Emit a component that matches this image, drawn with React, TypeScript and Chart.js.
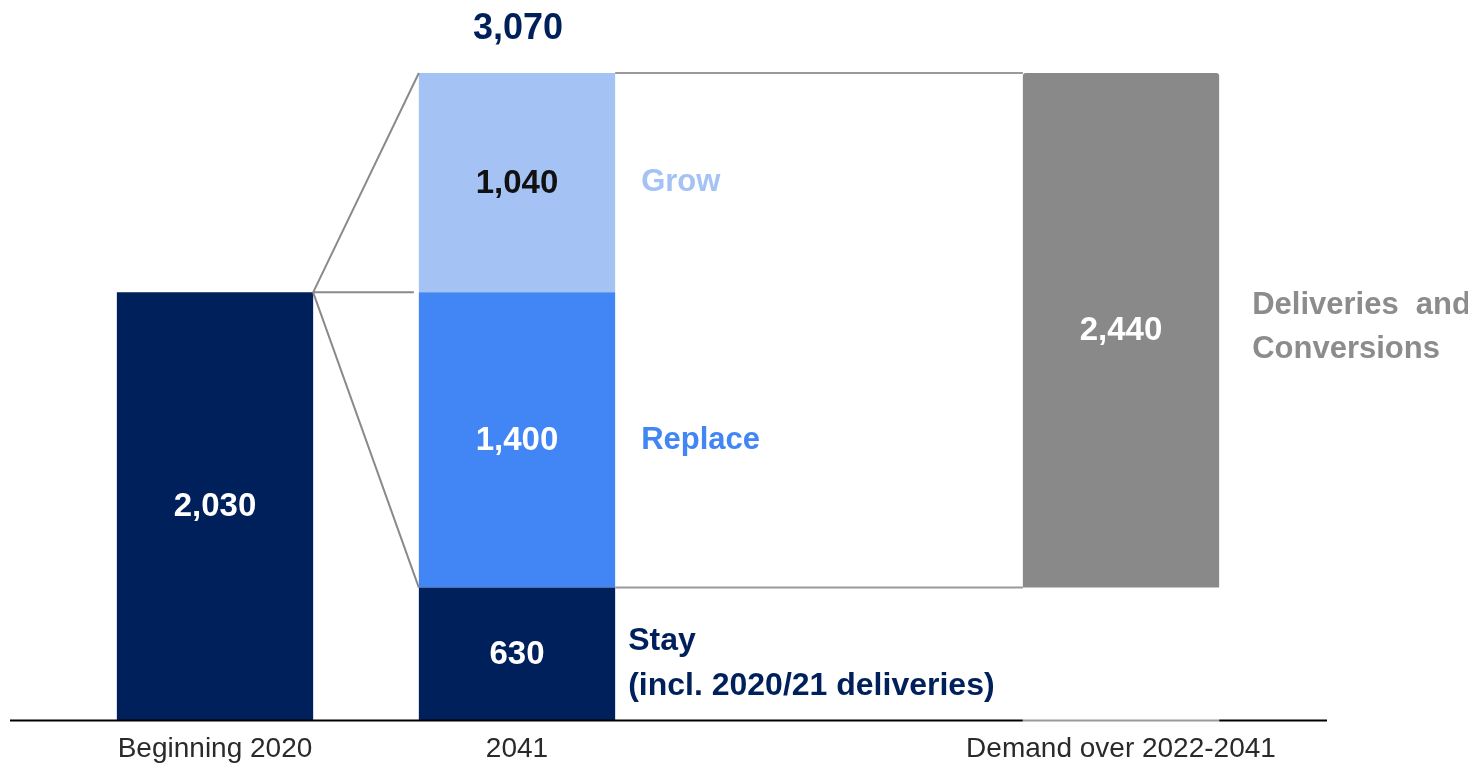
import { useEffect, useRef } from "react";
import { Chart, registerables } from "chart.js";

Chart.register(...registerables);

// ---- data ----
const categories = ["Beginning 2020", "2041", "", "Demand over 2022-2041"];
const fleet2020 = [2030, null, null, null];
const stay = [null, 630, null, null];
const replace = [null, 1400, null, null];
const grow = [null, 1040, null, null];
const demand = [null, null, null, [630, 3070]];
const total2041 = 3070;

const segmentNames = ["Grow", "Replace"];
const stayLines = ["Stay", "(incl. 2020/21 deliveries)"];
const demandLines = ["Deliveries  and", "Conversions"];

// ---- styles ----
const NAVY = "#00205B";
const BLUE = "#4285F4";
const LIGHT = "#A4C2F4";
const GREY = "#898989";
const SANS = "'Liberation Sans', Arial, sans-serif";

const fmt = (v: number) => v.toLocaleString("en-US");

const annotPlugin = {
  id: "annot",
  afterDatasetsDraw(chart: any) {
    const ctx = chart.ctx as CanvasRenderingContext2D;
    const yScale = chart.scales.y;
    const b1 = chart.getDatasetMeta(0).data[0] as any;
    const bStay = chart.getDatasetMeta(1).data[1] as any;
    const bRep = chart.getDatasetMeta(2).data[1] as any;
    const bGrow = chart.getDatasetMeta(3).data[1] as any;
    const bDem = chart.getDatasetMeta(4).data[3] as any;

    const b1R = b1.x + b1.width / 2;
    const b1Top = b1.y;
    const b2L = bGrow.x - bGrow.width / 2;
    const b2R = bGrow.x + bGrow.width / 2;
    const b3L = bDem.x - bDem.width / 2;
    const b3R = bDem.x + bDem.width / 2;
    const growTop = bGrow.y;
    const stayTop = bStay.y;
    const y0 = yScale.getPixelForValue(0);

    ctx.save();
    // connector lines
    ctx.strokeStyle = "#8a8a8a";
    ctx.lineWidth = 2;
    ctx.beginPath();
    ctx.moveTo(b1R, b1Top);
    ctx.lineTo(b2L, growTop);
    ctx.moveTo(b1R, b1Top);
    ctx.lineTo(b2L - 5, b1Top);
    ctx.moveTo(b1R, b1Top);
    ctx.lineTo(b2L, stayTop);
    ctx.stroke();

    // box lines between 2041 bar and demand bar
    ctx.strokeStyle = "#9a9a9a";
    ctx.beginPath();
    ctx.moveTo(b2R, growTop);
    ctx.lineTo(b3L, growTop);
    ctx.moveTo(b2R, stayTop);
    ctx.lineTo(b3L, stayTop);
    ctx.stroke();

    // baseline
    const left = chart.chartArea.left - 54;
    const right = chart.chartArea.right + 55;
    ctx.strokeStyle = "#000";
    ctx.beginPath();
    ctx.moveTo(left, y0);
    ctx.lineTo(b3L, y0);
    ctx.moveTo(b3R, y0);
    ctx.lineTo(right, y0);
    ctx.stroke();
    ctx.strokeStyle = "#9a9a9a";
    ctx.beginPath();
    ctx.moveTo(b3L, y0);
    ctx.lineTo(b3R, y0);
    ctx.stroke();

    // value labels inside bars
    ctx.textAlign = "center";
    ctx.textBaseline = "middle";
    ctx.font = `bold 33px ${SANS}`;
    const valLabel = (el: any, v: number, color: string) => {
      ctx.fillStyle = color;
      ctx.fillText(fmt(v), el.x, (el.y + el.base) / 2 + 1);
    };
    valLabel(b1, fleet2020[0] as number, "#fff");
    valLabel(bStay, stay[1] as number, "#fff");
    valLabel(bRep, replace[1] as number, "#fff");
    valLabel(bGrow, grow[1] as number, "#111");
    const dr = demand[3] as number[];
    valLabel(bDem, dr[1] - dr[0], "#fff");

    // total above
    ctx.fillStyle = NAVY;
    ctx.font = `bold 36px ${SANS}`;
    ctx.fillText(fmt(total2041), bGrow.x + 1, growTop - 44);

    // side labels
    ctx.textAlign = "left";
    ctx.font = `bold 31px ${SANS}`;
    ctx.fillStyle = LIGHT;
    ctx.fillText(segmentNames[0], b2R + 26, (bGrow.y + bGrow.base) / 2);
    ctx.fillStyle = BLUE;
    ctx.fillText(segmentNames[1], b2R + 26, (bRep.y + bRep.base) / 2 + 1);
    ctx.fillStyle = NAVY;
    ctx.font = `bold 32px ${SANS}`;
    const sc = (bStay.y + bStay.base) / 2;
    ctx.fillText(stayLines[0], b2R + 13, sc - 13);
    ctx.fillText(stayLines[1], b2R + 13, sc + 32);
    ctx.font = `bold 31px ${SANS}`;
    ctx.fillStyle = "#8c8c8c";
    const dc = (bDem.y + bDem.base) / 2;
    ctx.fillText(demandLines[0], b3R + 33, dc - 25);
    ctx.fillText(demandLines[1], b3R + 33, dc + 19);
    ctx.restore();
  },
};

export default function App() {
  const ref = useRef<HTMLCanvasElement | null>(null);

  useEffect(() => {
    if (!ref.current) return;
    const chart = new Chart(ref.current, {
      type: "bar",
      data: {
        labels: categories,
        datasets: [
          { label: "Beginning 2020", data: fleet2020 as any, backgroundColor: NAVY },
          { label: "Stay", data: stay as any, backgroundColor: NAVY },
          { label: "Replace", data: replace as any, backgroundColor: BLUE },
          { label: "Grow", data: grow as any, backgroundColor: LIGHT },
          {
            label: "Deliveries and Conversions",
            data: demand as any,
            backgroundColor: GREY,
            borderRadius: { topLeft: 3, topRight: 3, bottomLeft: 0, bottomRight: 0 },
            borderSkipped: false,
          },
        ],
      },
      options: {
        animation: false,
        responsive: true,
        maintainAspectRatio: false,
        layout: { padding: { left: 64, right: 196, top: 73, bottom: 0 } },
        datasets: { bar: { barPercentage: 1, categoryPercentage: 0.65 } },
        plugins: { legend: { display: false }, tooltip: { enabled: false } },
        scales: {
          x: {
            stacked: true,
            grid: { display: false, drawTicks: false },
            border: { display: false },
            ticks: {
              color: "#2a2a2a",
              padding: 12,
              font: { family: SANS, size: 28, lineHeight: 1.2 },
              maxRotation: 0,
              autoSkip: false,
            },
          },
          y: {
            stacked: true,
            display: false,
            min: 0,
            max: total2041,
          },
        },
      },
      plugins: [annotPlugin],
    });
    return () => chart.destroy();
  }, []);

  return (
    <div style={{ position: "fixed", left: 0, top: 0, width: 1468, height: 778, background: "#fff" }}>
      <canvas ref={ref} />
    </div>
  );
}
